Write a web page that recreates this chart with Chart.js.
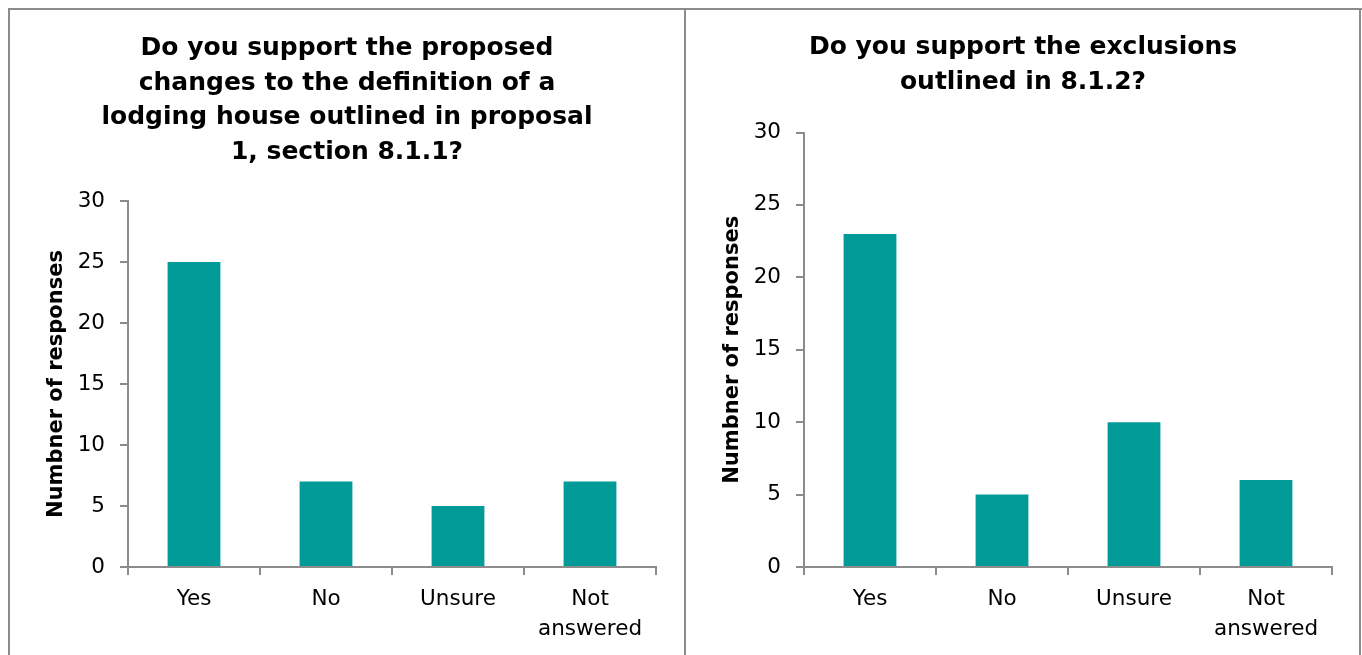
<!DOCTYPE html>
<html>
<head>
<meta charset="utf-8">
<script src="https://cdn.jsdelivr.net/npm/chart.js@4"></script>
<style>
  body { margin: 0; background: #fff; }
  #marco { position: absolute; left: 8px; top: 8px; width: 1400px; height: 700px; border-left: 2px solid #8c8c8c; border-top: 2px solid #8c8c8c; }
  #divisor { position: absolute; left: 684px; top: 8px; width: 2px; height: 700px; background: #8c8c8c; }
  #borde-der { position: absolute; left: 1359px; top: 8px; width: 2px; height: 700px; background: #8c8c8c; }
  .caja { position: absolute; top: 10px; width: 674px; height: 645px; }
</style>
</head>
<body>
<div id="marco"></div>
<div id="divisor"></div>
<div id="borde-der"></div>
<div class="caja" style="left:10px"><canvas id="c1"></canvas></div>
<div class="caja" style="left:686px"><canvas id="c2"></canvas></div>
<script>
// Datos
const categorias = ["Yes", "No", "Unsure", ["Not", "answered"]];
const valores1 = [25, 7, 5, 7];
const valores2 = [23, 5, 10, 6];
const titulo1 = ["Do you support the proposed", "changes to the definition of a", "lodging house outlined in proposal", "1, section 8.1.1?"];
const titulo2 = ["Do you support the exclusions", "outlined in 8.1.2?"];
const ejeY = "Numbner of responses";
const yMax = 30;
const yPaso = 5;

const fuente = "'DejaVu Sans', Verdana, sans-serif";
const gris = "#8c8c8c";

// Crear grafico
function crearGrafico(id, titulo, valores, padTitulo){
    return new Chart(document.getElementById(id), {
        type: 'bar',
        data: {
            labels: categorias,
            datasets: [{
                data: valores,
                backgroundColor: '#009a97',
                categoryPercentage: 1,
                barPercentage: 0.4
            }]
        },
        options: {
            responsive: true,
            maintainAspectRatio: false,
            animation: false,
            layout: { padding: { left: 28, right: 28, top: 0, bottom: 0 } },
            plugins: {
                legend: { display: false },
                tooltip: { enabled: false },
                title: {
                    display: true,
                    text: titulo,
                    color: '#000',
                    font: { family: fuente, size: 25, weight: 'bold', lineHeight: 1.39 },
                    padding: padTitulo
                }
            },
            scales: {
                x: {
                    afterFit: s => { s.height = 88; },
                    border: { color: gris, width: 2 },
                    grid: { drawOnChartArea: false, color: gris, lineWidth: 2, tickLength: 8 },
                    ticks: { color: '#000', padding: 10, font: { family: fuente, size: 21.5, lineHeight: 1.38 } }
                },
                y: {
                    min: 0,
                    max: yMax,
                    afterFit: s => { s.width = 90; },
                    border: { color: gris, width: 2 },
                    grid: { drawOnChartArea: false, color: gris, lineWidth: 2, tickLength: 8 },
                    ticks: { stepSize: yPaso, color: '#000', padding: 15, font: { family: fuente, size: 21.5 } },
                    title: {
                        display: true,
                        text: ejeY,
                        color: '#000',
                        font: { family: fuente, size: 21, weight: 'bold', lineHeight: 1.2 },
                        padding: { top: 6, bottom: 0 }
                    }
                }
            }
        }
    });
}

crearGrafico("c1", titulo1, valores1, { top: 21, bottom: 31 });
crearGrafico("c2", titulo2, valores2, { top: 20, bottom: 33 });
</script>
</body>
</html>
